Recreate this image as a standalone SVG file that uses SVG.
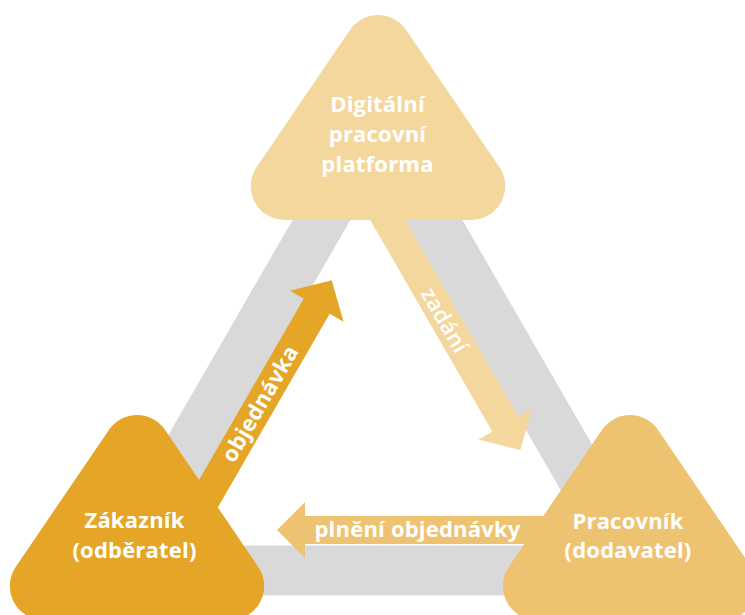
<svg xmlns="http://www.w3.org/2000/svg" xmlns:xlink="http://www.w3.org/1999/xlink" width="745" height="615" viewBox="0 0 745 615">
  <style>
    .lbl { font-family: "Open Sans", "Noto Sans", "DejaVu Sans", sans-serif; fill: #ffffff; font-size: 22px; font-weight: 700; text-anchor: middle; letter-spacing: 0.2px; }
    .thin { font-weight: 600; }
    .c1 { fill: #F3D79D; }
    .c2 { fill: #E5A628; }
    .c3 { fill: #EDC372; }
    .band { fill: none; stroke: #D9D9D9; stroke-width: 50; stroke-linejoin: miter; }
  </style>
  <defs>
    <path id="tri" d="M349.9,29.9 A34,34 0 0 1 406.1,29.9 L499.3,166.9 A34,34 0 0 1 471.2,220 L284.8,220 A34,34 0 0 1 256.7,166.9 Z"/>
    <polygon id="arrow" points="-300,-15 0,-15 0,-31 30,0 0,31 0,15 -300,15"/>
  </defs>
  <rect width="745" height="615" fill="#ffffff"/>
  <g id="cycle">
    <polygon class="band" points="377.5,123 119,570.5 636,570.5"/>
  </g>
  <g id="connectors">
    <g id="arrow-zadani">
      <use xlink:href="#arrow" class="c1" transform="translate(505.3,424) rotate(60)"/>
      <text class="lbl thin" transform="translate(444,320.5) rotate(60)" x="0" y="7">zadání</text>
    </g>
    <g id="arrow-objednavka">
      <use xlink:href="#arrow" class="c2" transform="translate(316.7,306.2) rotate(-60)"/>
      <text class="lbl" transform="translate(260.5,404) rotate(-60)" x="0" y="7">objednávka</text>
    </g>
    <g id="arrow-plneni">
      <polygon class="c3" points="305,516 560,516 560,544 305,544 305,558 277,530 305,502"/>
      <text class="lbl" x="417.5" y="537">plnění objednávky</text>
    </g>
  </g>
  <g id="node-platforma">
    <use xlink:href="#tri" class="c1"/>
    <text class="lbl" x="377.5" y="112">Digitální</text>
    <text class="lbl" x="377.5" y="142">pracovní</text>
    <text class="lbl" x="377.5" y="172">platforma</text>
  </g>
  <g id="node-zakaznik">
    <use xlink:href="#tri" class="c2" transform="translate(-241,400)"/>
    <text class="lbl" x="134.5" y="528">Zákazník</text>
    <text class="lbl" x="134.5" y="558">(odběratel)</text>
  </g>
  <g id="node-pracovnik">
    <use xlink:href="#tri" class="c3" transform="translate(252,400)"/>
    <text class="lbl" x="628" y="529">Pracovník</text>
    <text class="lbl" x="628" y="558">(dodavatel)</text>
  </g>
</svg>
